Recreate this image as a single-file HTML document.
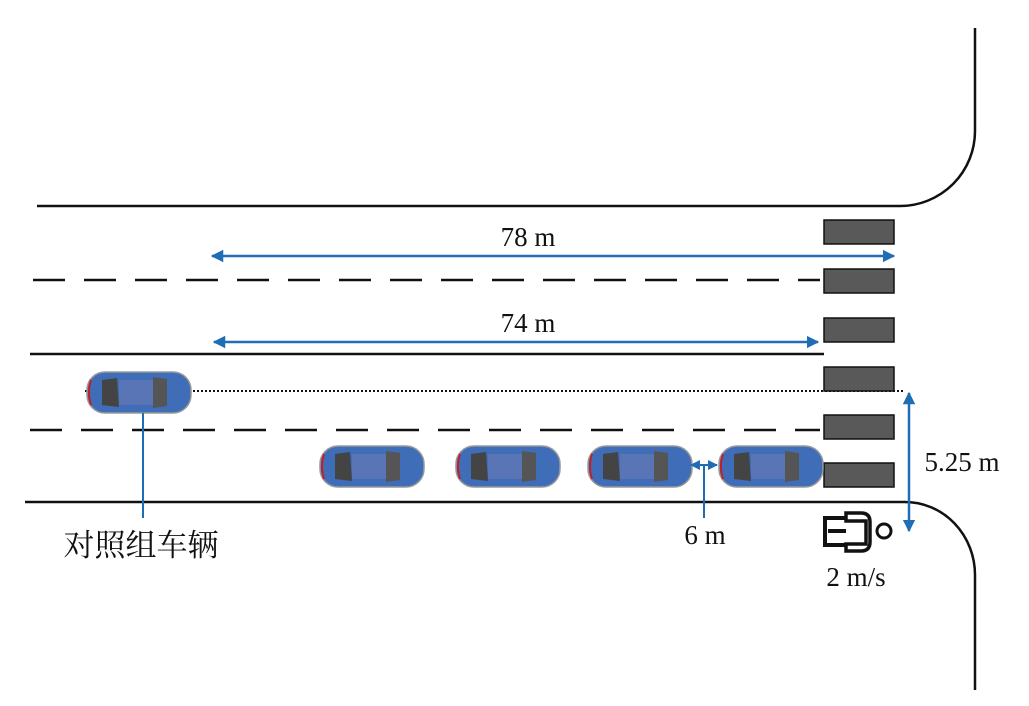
<!DOCTYPE html><html><head><style>body{margin:0;background:#fff}</style></head><body>
<svg width="1029" height="701" xmlns="http://www.w3.org/2000/svg" font-family="Liberation Serif, serif">
<defs>
<marker id="a" viewBox="0 0 10 10" refX="9" refY="5" markerWidth="5" markerHeight="5" orient="auto-start-reverse"><path d="M0,0L10,5L0,10z" fill="#1f6db5"/></marker>
<g id="car">
<rect x="0" y="0" width="104" height="41" rx="18" fill="#3f6db8" stroke="#999" stroke-width="1.5"/>
<path d="M4,8 Q0,20 4,33" stroke="#c0202a" stroke-width="2" fill="none"/>
<path d="M15,8 L30,6 L32,35 L15,33 Z" fill="#444"/>
<path d="M66,5 L80,7 L80,34 L66,36 Z" fill="#555"/>
<rect x="32" y="8" width="34" height="25" fill="#5a75b5"/>
</g>
</defs>
<g stroke="#111" stroke-width="2.5" fill="none">
<path d="M37,206 H900 A75,75 0 0 0 975,131 V28"/>
<path d="M25,502 H905 A70,73 0 0 1 975,575 V690"/>
<path d="M30,354 H824"/>
<path d="M33,280 H820" stroke-dasharray="32,19"/>
<path d="M30,430 H820" stroke-dasharray="32,19"/>
</g>
<path d="M85,391 H905" stroke="#111" stroke-width="2" stroke-dasharray="2,2"/>
<g fill="#595959" stroke="#111" stroke-width="1.5">
<rect x="824" y="220" width="70" height="24"/><rect x="824" y="269" width="70" height="24"/>
<rect x="824" y="318" width="70" height="24"/><rect x="824" y="367" width="70" height="24"/>
<rect x="824" y="415" width="70" height="24"/><rect x="824" y="463" width="70" height="24"/>
</g>
<use href="#car" x="87" y="372"/>
<use href="#car" x="320" y="446"/><use href="#car" x="456" y="446"/>
<use href="#car" x="588" y="446"/><use href="#car" x="719" y="446"/>
<g stroke="#1f6db5" stroke-width="2.5" fill="none">
<path d="M212,256 H894" marker-start="url(#a)" marker-end="url(#a)"/>
<path d="M214,342 H818" marker-start="url(#a)" marker-end="url(#a)"/>
<path d="M909,393 V531" marker-start="url(#a)" marker-end="url(#a)"/>
<path d="M691,465 H717" stroke-width="2" marker-start="url(#a)" marker-end="url(#a)"/>
<path d="M704,465 V518" stroke-width="2"/>
<path d="M143,413 V518" stroke-width="2"/>
</g>
<g fill="none" stroke="#111" stroke-width="4">
<path d="M846,518 H825 V545 H846"/><path d="M828,531 H846"/>
<path d="M846,521 H866 V544 H846 V551 H861 Q870,551 870,542 V522 Q870,513 861,513 H846 Z" stroke-width="3.5"/>
<circle cx="884" cy="531" r="7" stroke-width="3"/>
</g>
<g fill="#111" font-size="27" text-anchor="middle">
<text x="528" y="246">78 m</text>
<text x="528" y="332">74 m</text>
<text x="962" y="471">5.25 m</text>
<text x="705" y="544">6 m</text>
<text x="856" y="586">2 m/s</text>
<text x="141" y="556" font-size="31" font-family="Liberation Serif, Noto Serif CJK SC, serif">对照组车辆</text>
</g>
</svg></body></html>
